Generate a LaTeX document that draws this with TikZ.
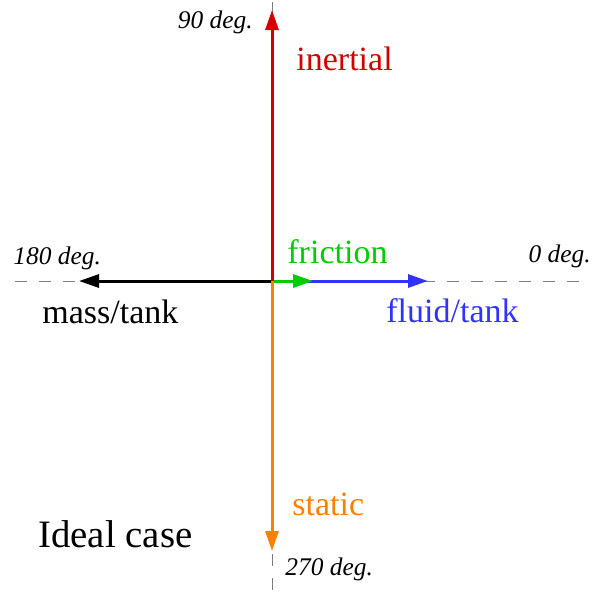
\documentclass[tikz,border=0pt]{standalone}
\usepackage{fontspec}
\setmainfont{Liberation Serif}
\usepackage{xcolor}
\usepackage{tikz}
\usetikzlibrary{positioning, arrows.meta}
\definecolor{inertred}{RGB}{210,0,0}
\definecolor{fricgreen}{RGB}{0,205,0}
\definecolor{fluidblue}{RGB}{50,50,255}
\definecolor{statorange}{RGB}{255,128,0}

\begin{document}
\begin{tikzpicture}[x=0.5pt, y=-0.5pt, font=\fontsize{17}{20}\selectfont,
		axis/.style={gray, line width=0.5pt, dash pattern=on 6pt off 6pt},
		phasor/.style={line width=1.5pt, -{Triangle[length=10pt, width=6.5pt]}},
		deglabel/.style={inner sep=0pt, font=\fontsize{12.7}{15}\selectfont\itshape}]
		\useasboundingbox (0,0) rectangle (599,591);

		% Axes
		\coordinate (O) at (272,281);
		\coordinate (xl) at (15,281);
		\coordinate (xr) at (590,281);
		\coordinate (yt) at (272,2);
		\coordinate (yb) at (272,591);
		\draw[axis] (xl) -- (xr);
		\draw[axis] (yt) -- (yb);

		% Phasor tips
		\coordinate (inert) at (272,10);
		\coordinate (stat) at (272,551);
		\coordinate (mass) at (79,281);
		\coordinate (fluid) at (428,281);
		\coordinate (fric) at (313,281);

		\draw[phasor, black] (O) -- (mass);
		\draw[phasor, fluidblue] (O) -- (fluid);
		\draw[phasor, fricgreen] (O) -- (fric);
		\draw[phasor, inertred] (O) -- (inert);
		\draw[phasor, statorange] (O) -- (stat);

		% Angle marks
		\node (d90) at (253,28) [deglabel, anchor=base east] {90 deg.};
		\node (d180) at (13,264) [deglabel, anchor=base west] {180 deg.};
		\node (d0) at (591,262) [deglabel, anchor=base east] {0 deg.};
		\node (d270) at (285,575) [deglabel, anchor=base west] {270 deg.};

		% Phasor names
		\node (linert) at (296,70) [inner sep=0pt, anchor=base west, inertred] {inertial};
		\node (lfric) at (287,263) [inner sep=0pt, anchor=base west, fricgreen] {friction};
		\node (lmass) at (42,323) [inner sep=0pt, anchor=base west] {mass/tank};
		\node (lfluid) at (386,322) [inner sep=0pt, anchor=base west, fluidblue] {fluid/tank};
		\node (lstat) at (292,515) [inner sep=0pt, anchor=base west, statorange] {static};

		\node (title) at (38,547) [inner sep=0pt, anchor=base west, font=\fontsize{19.4}{23}\selectfont] {Ideal case};
	\end{tikzpicture}
\end{document}
